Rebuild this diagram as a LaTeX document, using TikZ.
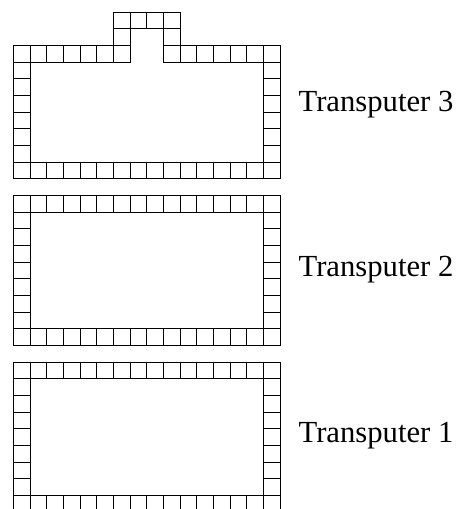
\documentclass[tikz,border=0pt]{standalone}
\usepackage{fontspec}
\setmainfont{Liberation Serif}
\usepackage{tikz}

\begin{document}
\begin{tikzpicture}[x=12.5pt,y=12.5pt,
  cell/.style={draw=black,line width=0.6pt},
  chipname/.style={anchor=base west,inner sep=0pt,font=\fontsize{23}{27}\selectfont}]
\useasboundingbox (-0.8,0.18) rectangle (26.68,30.72);
\clip (-0.8,0.18) rectangle (26.68,30.72);
% Transputer 3 (with link cells on top)
\foreach \i in {0,...,6,9,10,...,15} \draw[cell] (\i,27) rectangle +(1,1);
\foreach \i in {0,...,15} \draw[cell] (\i,20) rectangle +(1,1);
\foreach \j in {21,...,26} {\draw[cell] (0,\j) rectangle +(1,1); \draw[cell] (15,\j) rectangle +(1,1);}
\foreach \i in {6,...,9} \draw[cell] (\i,29) rectangle +(1,1);
\draw[cell] (6,28) rectangle +(1,1);
\draw[cell] (9,28) rectangle +(1,1);
% Transputer 2 and 1
\foreach \b in {0,10} {
  \foreach \i in {0,...,15} {\draw[cell] (\i,\b) rectangle +(1,1); \draw[cell] (\i,\b+8) rectangle +(1,1);}
  \foreach \j in {1,...,7} {\draw[cell] (0,\b+\j) rectangle +(1,1); \draw[cell] (15,\b+\j) rectangle +(1,1);}
}
\node[chipname] (tp3) at (17.1,24.02) {Transputer 3};
\node[chipname] (tp2) at (17.1,14.12) {Transputer 2};
\node[chipname] (tp1) at (17.1,4.16) {Transputer 1};
\end{tikzpicture}
\end{document}
